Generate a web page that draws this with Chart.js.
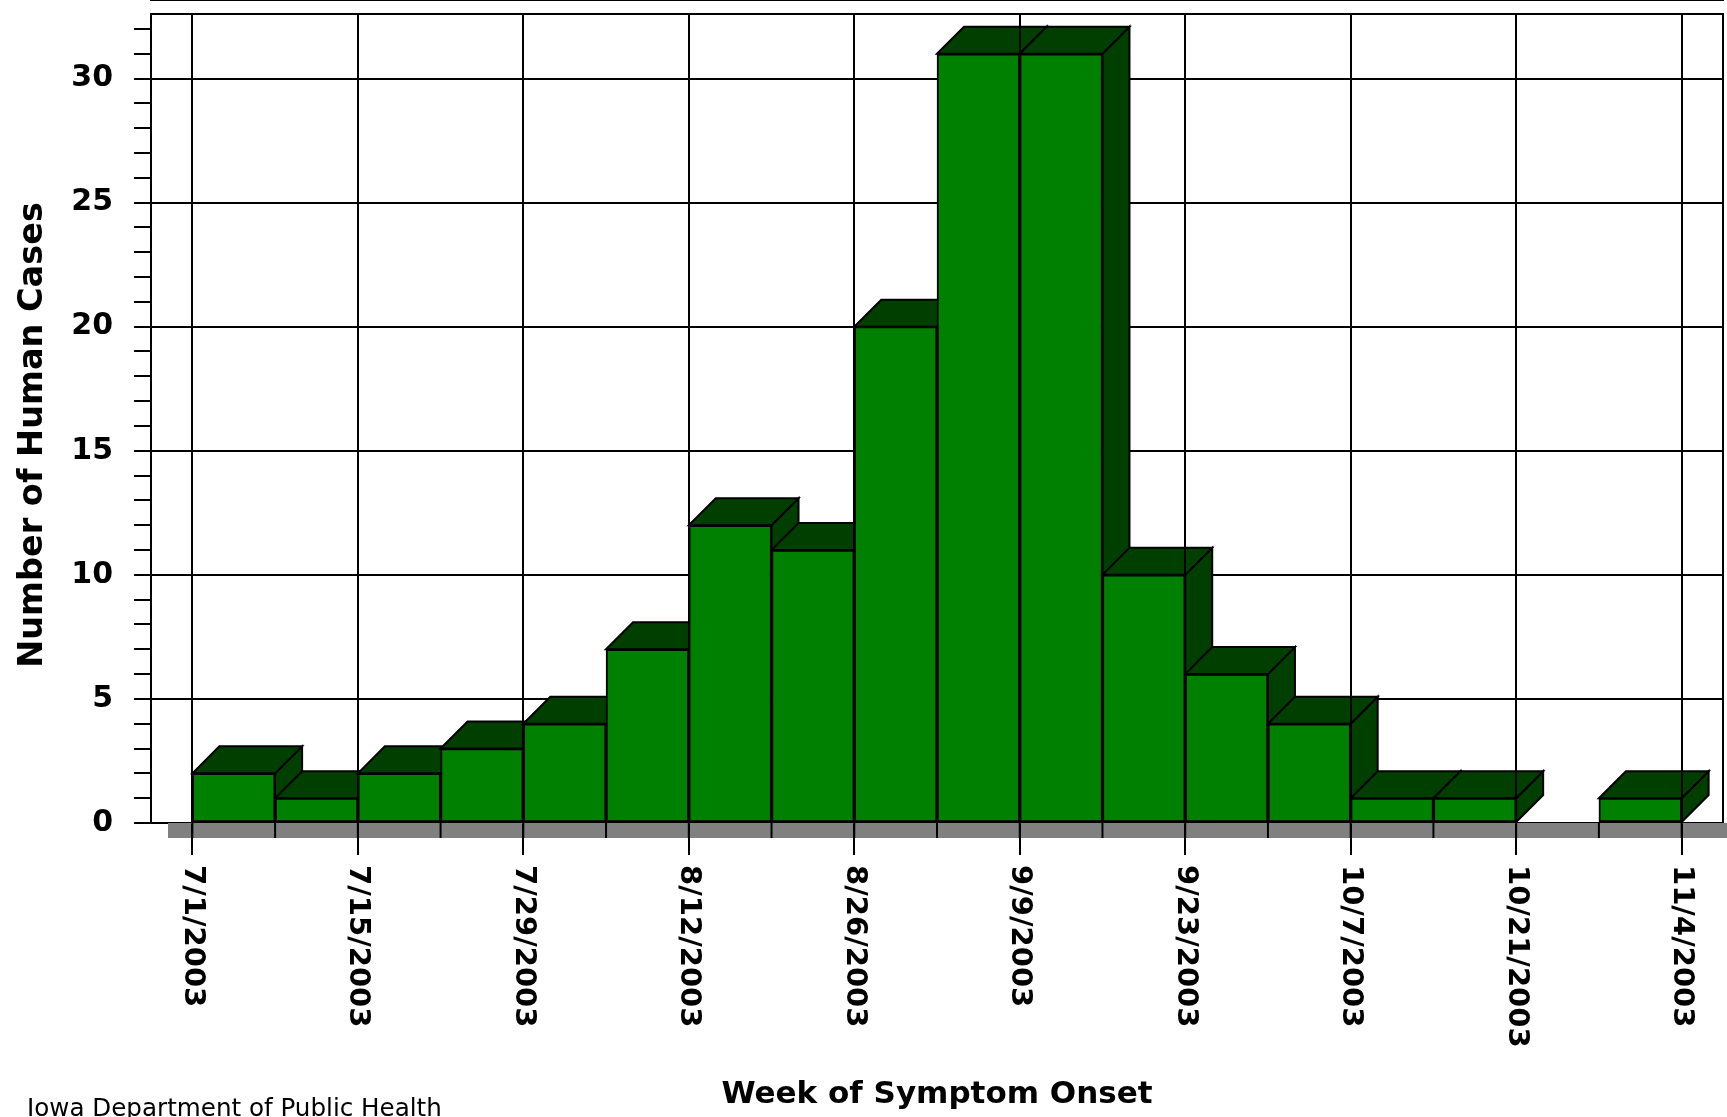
<!DOCTYPE html>
<html>
<head>
<meta charset="utf-8">
<title>Human Cases by Week of Symptom Onset, 2003</title>
<script src="https://cdn.jsdelivr.net/npm/chart.js@4.4.1/dist/chart.umd.min.js"></script>
<style>
    html, body { margin: 0; padding: 0; background: #fff; }
    #wrap { position: relative; width: 1727px; height: 1117px; }
</style>
</head>
<body>
<div id="wrap"><canvas id="onsetChart"></canvas></div>
<script>
// week of symptom onset (tick marks), one bar per week between two ticks
var weekLabels = ['7/1/2003', '7/8/2003', '7/15/2003', '7/22/2003', '7/29/2003', '8/5/2003',
    '8/12/2003', '8/19/2003', '8/26/2003', '9/2/2003', '9/9/2003', '9/16/2003', '9/23/2003',
    '9/30/2003', '10/7/2003', '10/14/2003', '10/21/2003', '10/28/2003', '11/4/2003'];
var humanCases = [2, 1, 2, 3, 4, 7, 12, 11, 20, 31, 31, 10, 6, 4, 1, 1, 0, 1];
var caseTicks = [0, 5, 10, 15, 20, 25, 30];
var yTitle = 'Number of Human Cases';
var xTitle = 'Week of Symptom Onset';
var sourceNote = 'Iowa Department of Public Health';

(function () {
    var DEPTH = 27;
    var FRONT = '#008000';
    var SHADE = '#003f00';
    var FLOOR = '#808080';
    var FONT = '"DejaVu Sans", "Liberation Sans", Arial, sans-serif';

    function poly(ctx, pts) {
        ctx.beginPath();
        ctx.moveTo(pts[0][0], pts[0][1]);
        for (var i = 1; i < pts.length; i++) {
            ctx.lineTo(pts[i][0], pts[i][1]);
        }
        ctx.closePath();
        ctx.fill();
        ctx.stroke();
    }

    var depthPlugin = {
        id: 'barDepth',
        beforeDatasetsDraw: function (chart) {
            var ctx = chart.ctx;
            var area = chart.chartArea;
            ctx.save();
            ctx.strokeStyle = '#000';
            ctx.lineWidth = 2;
            ctx.beginPath();
            ctx.moveTo(area.left, area.top);
            ctx.lineTo(area.right, area.top);
            ctx.lineTo(area.right, area.bottom);
            ctx.stroke();

            // side and top faces, left to right so later bars cover earlier ones
            ctx.fillStyle = SHADE;
            var meta = chart.getDatasetMeta(0);
            meta.data.forEach(function (bar, i) {
                if (!humanCases[i]) {
                    return;
                }
                var p = bar.getProps(['x', 'y', 'base', 'width'], true);
                var l = p.x - p.width / 2;
                var r = p.x + p.width / 2;
                poly(ctx, [[r, p.y], [r + DEPTH, p.y - DEPTH], [r + DEPTH, p.base - DEPTH], [r, p.base]]);
                poly(ctx, [[l, p.y], [l + DEPTH, p.y - DEPTH], [r + DEPTH, p.y - DEPTH], [r, p.y]]);
            });
            ctx.restore();
        },
        afterDatasetsDraw: function (chart) {
            var ctx = chart.ctx;
            var area = chart.chartArea;
            var xs = chart.scales.x;
            ctx.save();
            ctx.fillStyle = FLOOR;
            ctx.fillRect(area.left + 17, area.bottom, chart.width - area.left - 17, 15);
            ctx.strokeStyle = '#000';
            ctx.lineWidth = 2;
            xs.ticks.forEach(function (t, i) {
                var x = xs.getPixelForTick(i);
                ctx.beginPath();
                ctx.moveTo(x, area.bottom);
                ctx.lineTo(x, area.bottom + 15);
                ctx.stroke();
            });
            ctx.restore();
        },
        afterDraw: function (chart) {
            var ctx = chart.ctx;
            var area = chart.chartArea;
            var xs = chart.scales.x;
            ctx.save();
            ctx.fillStyle = '#000';
            ctx.font = 'bold 29px ' + FONT;
            ctx.textAlign = 'left';
            ctx.textBaseline = 'middle';
            weekLabels.forEach(function (label, i) {
                if (i % 2 !== 0) {
                    return;
                }
                ctx.save();
                ctx.translate(xs.getPixelForValue(i), area.bottom + 42);
                ctx.rotate(Math.PI / 2);
                ctx.fillText(label, 0, 0);
                ctx.restore();
            });

            ctx.save();
            ctx.font = 'bold 33.5px ' + FONT;
            ctx.textAlign = 'center';
            ctx.translate(33, 435);
            ctx.rotate(-Math.PI / 2);
            ctx.fillText(yTitle, 0, 0);
            ctx.restore();

            ctx.font = '24.6px ' + FONT;
            ctx.textBaseline = 'alphabetic';
            ctx.fillText(sourceNote, 27, chart.height - 1);
            ctx.restore();
        }
    };

    new Chart(document.getElementById('onsetChart'), {
        type: 'bar',
        data: {
            datasets: [
                {
                    data: humanCases.map(function (v, i) {
                        return { x: i + 0.5, y: v };
                    }),
                    backgroundColor: FRONT,
                    borderColor: '#000',
                    borderWidth: 2,
                    borderSkipped: false,
                    categoryPercentage: 1,
                    barPercentage: 1
                }
            ]
        },
        options: {
            responsive: true,
            maintainAspectRatio: false,
            animation: false,
            layout: {
                padding: { left: 0, top: 14, right: 4, bottom: 0 }
            },
            plugins: {
                legend: { display: false },
                tooltip: { enabled: false }
            },
            scales: {
                x: {
                    type: 'linear',
                    offset: false,
                    min: -0.5,
                    max: weekLabels.length - 0.5,
                    afterBuildTicks: function (scale) {
                        scale.ticks = weekLabels.map(function (l, i) {
                            return { value: i };
                        });
                    },
                    afterFit: function (scale) {
                        scale.height = 294;
                        scale.paddingLeft = 0;
                        scale.paddingRight = 0;
                    },
                    ticks: { display: false, autoSkip: false },
                    grid: {
                        z: 1,
                        offset: false,
                        lineWidth: 2,
                        tickLength: 32,
                        color: function (c) {
                            return c.index % 2 === 0 ? '#000' : 'rgba(0,0,0,0)';
                        }
                    },
                    border: { color: '#000', width: 2 },
                    title: {
                        display: true,
                        text: xTitle,
                        color: '#000',
                        font: { family: FONT, size: 31, weight: 'bold' },
                        padding: { top: 0, bottom: 3 }
                    }
                },
                y: {
                    min: 0,
                    max: 32.6,
                    afterFit: function (scale) {
                        scale.width = 151;
                        scale.paddingTop = 0;
                        scale.paddingBottom = 0;
                    },
                    ticks: {
                        stepSize: 1,
                        includeBounds: false,
                        autoSkip: false,
                        padding: 21,
                        color: '#000',
                        font: { family: FONT, size: 30, weight: 'bold' },
                        callback: function (value) {
                            return caseTicks.indexOf(value) >= 0 ? String(value) : '';
                        }
                    },
                    grid: {
                        lineWidth: 2,
                        tickLength: 17,
                        tickColor: '#000',
                        color: function (c) {
                            return c.tick && caseTicks.indexOf(c.tick.value) >= 0 ? '#000' : 'rgba(0,0,0,0)';
                        }
                    },
                    border: { color: '#000', width: 2 }
                }
            }
        },
        plugins: [depthPlugin]
    });
})();
</script>
</body>
</html>
